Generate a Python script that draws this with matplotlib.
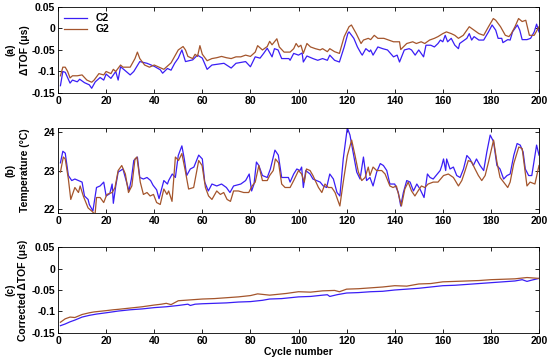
import matplotlib
matplotlib.use("Agg")
import matplotlib.pyplot as plt

# ---- data ----
# (a) delta TOF (us)
a_c2_x = [1, 2, 3, 5, 6, 8, 9, 11, 13, 14, 15.5, 17.5, 19, 20, 22, 24, 25, 26, 27.5, 30,
          31.5, 34, 37, 40, 42.5, 43.5, 45.5, 47, 48.5, 50, 51.5, 53, 56, 58, 60, 62, 64, 69,
          72, 74, 78, 80, 82, 84, 85.5, 87, 89, 90, 91.5, 93, 96, 96.5, 98, 100, 101.5, 102,
          103.5, 106, 108, 110, 112, 113, 115, 117, 119, 120.5, 121, 123, 124.5, 126, 126.5,
          128, 129.5, 130, 131, 133, 135, 137, 139.5, 141, 142, 144, 146, 147, 148.5, 150,
          152, 153, 155, 156.5, 158, 159, 160, 161, 162, 163.5, 165, 166.5, 167, 170, 171,
          172, 173, 175, 177, 179, 180.5, 182, 183, 184.5, 185, 187, 188, 189, 191, 192, 193,
          195, 196.5, 198, 199, 200]
a_c2_y = [-0.133, -0.100, -0.102, -0.127, -0.120, -0.124, -0.118, -0.126, -0.131, -0.139,
          -0.124, -0.114, -0.120, -0.106, -0.116, -0.100, -0.120, -0.089, -0.096, -0.108,
          -0.100, -0.077, -0.081, -0.088, -0.096, -0.104, -0.093, -0.097, -0.081, -0.069,
          -0.050, -0.077, -0.073, -0.062, -0.069, -0.095, -0.085, -0.081, -0.092, -0.081,
          -0.077, -0.089, -0.066, -0.069, -0.058, -0.046, -0.066, -0.047, -0.050, -0.070,
          -0.070, -0.074, -0.058, -0.062, -0.057, -0.078, -0.064, -0.070, -0.074, -0.070,
          -0.074, -0.062, -0.074, -0.078, -0.043, -0.012, -0.008, -0.023, -0.043, -0.058,
          -0.062, -0.047, -0.054, -0.050, -0.062, -0.043, -0.047, -0.050, -0.066, -0.062,
          -0.078, -0.050, -0.047, -0.050, -0.062, -0.050, -0.066, -0.039, -0.039, -0.043,
          -0.035, -0.027, -0.031, -0.016, -0.031, -0.023, -0.039, -0.047, -0.035, -0.023,
          -0.012, -0.027, -0.019, -0.027, -0.027, -0.008, 0.008, -0.004, -0.023, -0.023,
          -0.033, -0.026, -0.027, -0.008, 0.008, -0.004, -0.026, -0.026, -0.023, -0.008,
          0.010, -0.008]
a_g2_x = [1, 2, 3, 4, 5, 6, 8, 10, 12, 14, 15, 17, 19, 20, 22, 23, 24, 26, 27, 28, 30, 32,
          33, 34, 36, 38, 40, 42, 44, 45, 47, 48, 50, 52, 53, 54, 56, 57, 58, 59, 60, 62, 64,
          66, 68, 70, 72, 74, 76, 78, 80, 82, 83, 85, 87, 88, 89, 91, 92, 94, 96.5, 98, 99,
          100, 101, 102, 103.5, 105, 107, 109, 110, 112, 113, 115, 117, 119, 121, 122, 124,
          126, 127, 129, 130, 131.5, 133, 135.5, 137.5, 139.5, 142, 142.5, 145, 147.5, 149,
          151, 152.5, 154.5, 156.5, 158, 160, 161.5, 163.5, 165, 166.5, 168.5, 170, 171, 173,
          175, 177, 179, 181, 182, 184, 186, 187.5, 188.5, 190, 191.5, 193, 194.5, 196, 198,
          200]
a_g2_y = [-0.110, -0.090, -0.090, -0.100, -0.115, -0.110, -0.110, -0.108, -0.120, -0.125,
          -0.120, -0.105, -0.108, -0.100, -0.105, -0.095, -0.100, -0.085, -0.090, -0.090,
          -0.090, -0.070, -0.055, -0.070, -0.085, -0.090, -0.085, -0.090, -0.095, -0.090,
          -0.080, -0.070, -0.050, -0.042, -0.050, -0.065, -0.070, -0.060, -0.065, -0.040,
          -0.060, -0.075, -0.070, -0.068, -0.065, -0.068, -0.070, -0.066, -0.066, -0.062,
          -0.065, -0.055, -0.040, -0.050, -0.042, -0.030, -0.038, -0.024, -0.043, -0.055,
          -0.055, -0.047, -0.035, -0.043, -0.039, -0.058, -0.035, -0.043, -0.047, -0.050,
          -0.047, -0.054, -0.047, -0.054, -0.058, -0.019, 0.004, 0.008, -0.012, -0.035,
          -0.027, -0.023, -0.026, -0.016, -0.023, -0.023, -0.027, -0.031, -0.031, -0.049,
          -0.035, -0.031, -0.035, -0.031, -0.035, -0.027, -0.023, -0.019, -0.012, -0.008,
          -0.012, -0.016, -0.023, -0.016, -0.004, 0.004, -0.004, -0.012, -0.016, 0.004,
          0.023, 0.019, 0.004, -0.016, -0.019, -0.012, 0.004, 0.023, 0.016, 0.019, -0.016,
          -0.016, 0.004]

# (b) temperature (degC)
b_c2_x = [1, 2, 3, 4.3, 5.7, 7, 8.5, 10, 11, 12.5, 13, 14.5, 15.5, 16, 17.5, 19, 20, 21.5,
          22.5, 23, 24, 25, 27, 28.5, 29.5, 30.5, 31.5, 33, 34, 35.5, 37, 38.5, 39.5, 41, 42,
          44, 45.5, 46, 47.5, 48.8, 50, 51.5, 52.5, 53.5, 55, 56.5, 58.5, 60, 61, 62.5, 64,
          66, 68, 70, 71.5, 73, 76, 78, 79.5, 80.5, 81.5, 82.5, 83.5, 85, 87, 88.3, 90.2,
          91.6, 93, 95.8, 96.5, 98, 99.3, 100.6, 101.3, 102, 103, 104.8, 106, 109, 110.3,
          111.7, 113, 114.5, 116, 117.2, 118.6, 120.3, 121.4, 122.8, 124.2, 125.6, 127, 128.3,
          129.7, 131, 132.5, 134, 135.3, 136.7, 138, 140, 141.5, 142.5, 143.6, 145, 146.4,
          147.8, 149.2, 150.5, 152.2, 153.6, 154.7, 156, 158.9, 159.6, 160.3, 161.2, 161.6,
          163, 164.4, 165.8, 167.2, 168.6, 170, 171.3, 172.7, 174, 175.5, 177, 178.3, 179.7,
          181.1, 182.5, 183.8, 185.3, 186.7, 188, 189.5, 190.9, 192.2, 193.4, 194.3, 195.7,
          197, 199, 200]
b_c2_y = [23.20, 23.50, 23.45, 22.87, 22.74, 22.78, 22.74, 22.70, 22.34, 22.25, 22.12,
          21.95, 22.35, 22.56, 22.60, 22.70, 22.34, 22.40, 22.65, 22.15, 22.60, 22.96, 23.04,
          22.70, 22.47, 22.78, 23.26, 23.35, 22.82, 22.78, 22.82, 22.74, 22.62, 22.50, 22.27,
          22.74, 22.65, 22.74, 22.91, 22.82, 23.39, 23.64, 23.30, 22.87, 23.04, 23.09, 23.40,
          23.30, 22.70, 22.47, 22.65, 22.60, 22.65, 22.56, 22.43, 22.60, 22.65, 22.74, 22.91,
          22.47, 22.65, 23.22, 23.13, 22.87, 22.82, 23.04, 23.53, 23.40, 22.82, 22.82, 22.70,
          22.91, 23.04, 23.00, 23.09, 22.56, 23.00, 22.91, 22.78, 22.70, 22.60, 22.56, 22.91,
          22.78, 22.43, 22.34, 23.30, 24.11, 23.92, 23.44, 22.96, 22.78, 23.35, 22.74, 22.82,
          22.60, 22.96, 23.18, 23.13, 23.00, 22.65, 22.65, 22.43, 22.08, 22.43, 22.74, 22.70,
          22.47, 22.65, 22.52, 22.30, 22.91, 22.82, 22.78, 23.00, 23.13, 23.30, 23.00, 23.30,
          23.04, 23.09, 22.87, 22.82, 23.04, 23.39, 23.30, 23.13, 23.30, 23.13, 23.00, 23.48,
          23.92, 23.75, 23.13, 23.04, 22.78, 22.87, 22.91, 23.39, 23.70, 23.66, 23.48, 23.04,
          22.87, 22.87, 23.66, 23.40]
b_g2_x = [1, 2.2, 3, 4.3, 5.3, 7, 8.5, 9.2, 10.5, 12.5, 14, 15.4, 16, 17.5, 19, 20.3, 22.5,
          23.7, 25, 26.5, 28, 29.3, 30.7, 32, 32.8, 34.2, 35.5, 37, 38.3, 39.7, 41, 42.5, 44,
          45.3, 46, 47.4, 48.8, 50.1, 51.5, 52.9, 54.3, 56.4, 58.5, 59.9, 61.3, 62.6, 64, 66,
          67.5, 68.9, 70.3, 71.7, 73, 75, 77.2, 79.3, 80.7, 82, 83.5, 85, 87, 88, 89.5, 90.4,
          91.7, 93, 94.4, 96.5, 98, 100, 101.3, 102.4, 103.3, 104.8, 106, 108.3, 109.7, 111,
          112.4, 113.8, 115.2, 117.2, 118.6, 120.3, 122.1, 123.5, 124.9, 126.3, 127.7, 129,
          129.7, 131, 132.5, 134.6, 136, 138, 139.3, 140.7, 142.1, 142.8, 144.2, 145.6, 147,
          148.4, 149.7, 151.1, 152.5, 153.9, 156, 158, 160.3, 162.3, 164.4, 166.5, 167.9,
          169.3, 170.6, 172, 173.4, 174.8, 176.2, 177.6, 179, 181.1, 182.5, 183.8, 185.3,
          187, 188, 189.5, 191.6, 193, 193.9, 195, 196.3, 198.3, 200]
b_g2_y = [22.96, 23.35, 23.30, 22.78, 22.25, 22.56, 22.43, 22.60, 22.34, 22.03, 21.95,
          21.86, 22.30, 22.30, 22.17, 22.38, 22.43, 22.56, 23.00, 23.13, 22.91, 22.43, 22.60,
          23.30, 23.35, 22.70, 22.38, 22.43, 22.34, 22.38, 22.17, 22.12, 22.52, 22.38, 22.47,
          22.20, 23.35, 23.26, 23.44, 23.00, 22.52, 22.56, 23.26, 23.13, 22.56, 22.34, 22.25,
          22.47, 22.38, 22.43, 22.25, 22.20, 22.47, 22.47, 22.43, 22.43, 22.60, 22.70, 23.13,
          22.74, 22.74, 22.87, 23.00, 23.30, 23.20, 22.65, 22.56, 22.56, 22.74, 23.00, 22.91,
          22.70, 23.04, 23.00, 22.87, 22.56, 22.43, 22.65, 22.56, 22.56, 22.43, 22.08, 22.70,
          23.39, 23.79, 23.39, 22.96, 22.74, 22.82, 23.09, 22.87, 23.09, 23.00, 23.00, 22.91,
          22.60, 22.56, 22.60, 22.25, 22.08, 22.52, 22.70, 22.47, 22.34, 22.47, 22.60, 22.56,
          22.65, 22.70, 22.70, 22.87, 22.91, 22.82, 22.60, 22.74, 23.00, 23.26, 23.22, 23.04,
          22.87, 22.74, 22.87, 23.22, 23.79, 23.22, 22.82, 22.70, 22.56, 22.70, 23.18, 23.61,
          23.57, 23.13, 22.60, 22.70, 22.65, 23.13]

# (c) corrected delta TOF (us)
c_c2_x = [1, 3, 5, 7, 10, 13, 16, 20, 25, 30, 35, 40, 45, 50, 54, 55, 57, 60, 65, 70, 75,
          80, 85, 88, 93, 100, 105, 110, 112, 113, 116, 120, 125, 130, 135, 140, 145, 150, 155,
          160, 165, 170, 175, 180, 185, 190, 193, 195, 197, 200]
c_c2_y = [-0.133, -0.129, -0.124, -0.120, -0.113, -0.109, -0.106, -0.103, -0.099, -0.096,
          -0.094, -0.091, -0.089, -0.086, -0.083, -0.086, -0.083, -0.082, -0.081, -0.080,
          -0.078, -0.077, -0.074, -0.071, -0.070, -0.066, -0.065, -0.062, -0.061, -0.065,
          -0.061, -0.057, -0.056, -0.054, -0.053, -0.050, -0.048, -0.046, -0.043, -0.040,
          -0.039, -0.037, -0.035, -0.033, -0.031, -0.029, -0.026, -0.030, -0.027, -0.023]
c_g2_x = [1, 3, 5, 7, 10, 13, 15, 20, 23, 25, 30, 35, 40, 43, 45, 47, 50, 55, 60, 65, 70,
          75, 80, 83, 88, 95, 100, 105, 110, 115, 117, 120, 125, 130, 135, 140, 145, 150,
          155, 160, 165, 170, 175, 180, 185, 190, 195, 200]
c_g2_y = [-0.125, -0.117, -0.113, -0.114, -0.107, -0.103, -0.101, -0.098, -0.096, -0.095,
          -0.092, -0.089, -0.085, -0.083, -0.081, -0.084, -0.075, -0.073, -0.071, -0.070,
          -0.068, -0.066, -0.063, -0.059, -0.062, -0.058, -0.054, -0.055, -0.052, -0.051,
          -0.054, -0.048, -0.047, -0.045, -0.043, -0.040, -0.041, -0.036, -0.035, -0.031,
          -0.030, -0.029, -0.028, -0.026, -0.025, -0.024, -0.021, -0.023]

x_ticks = list(range(0, 201, 20))
tof_ticks = [0.05, 0, -0.05, -0.1, -0.15]
tof_labels = ["0.05", "0", "-0.05", "-0.1", "-0.15"]
temp_ticks = [22, 23, 24]

# ---- style ----
plt.rcParams["font.family"] = ["Liberation Sans", "DejaVu Sans"]
plt.rcParams["font.weight"] = "bold"
plt.rcParams["axes.unicode_minus"] = False

blue = "#3a1ef5"
brown = "#a4552c"

W, H = 550, 364
fig = plt.figure(figsize=(5.5, 3.64), dpi=100)
left, width = 0.1055, 0.8745
ax_a = fig.add_axes([left, 0.7445, width, 0.2365])
ax_b = fig.add_axes([left, 0.415, width, 0.233])
ax_c = fig.add_axes([left, 0.0852, width, 0.2362])

ax_a.plot(a_c2_x, a_c2_y, color=blue, lw=0.9, label="C2")
ax_a.plot(a_g2_x, a_g2_y, color=brown, lw=0.9, label="G2")
ax_b.plot(b_c2_x, b_c2_y, color=blue, lw=0.9)
ax_b.plot(b_g2_x, b_g2_y, color=brown, lw=0.9)
ax_c.plot(c_c2_x, c_c2_y, color=blue, lw=0.9)
ax_c.plot(c_g2_x, c_g2_y, color=brown, lw=0.9)

for ax in (ax_a, ax_b, ax_c):
    ax.set_xlim(0, 200)
    ax.set_xticks(x_ticks)
    ax.tick_params(direction="in", top=True, right=True, length=3, width=0.6,
                   labelsize=7.5, pad=2)
    for lbl in ax.get_xticklabels() + ax.get_yticklabels():
        lbl.set_fontweight("bold")
    for s in ax.spines.values():
        s.set_linewidth(0.6)

for ax in (ax_a, ax_c):
    ax.set_ylim(-0.15, 0.05)
    ax.set_yticks(tof_ticks)
    ax.set_yticklabels(tof_labels, fontweight="bold")

ax_b.set_ylim(21.9, 24.1)
ax_b.set_yticks(temp_ticks)
ax_b.set_yticklabels([str(t) for t in temp_ticks], fontweight="bold")

# panel letters and y labels as two separate rotated texts
panels = [(ax_a, "(a)", "\u0394TOF (\u03bcs)", 25),
          (ax_b, "(b)", "Temperature (\u00b0C)", 25),
          (ax_c, "(c)", "Corrected \u0394TOF (\u03bcs)", 23)]
for ax, letter, label, xpx in panels:
    pos = ax.get_position()
    ymid = (pos.y0 + pos.y1) / 2
    fig.text(10 / W, ymid, letter, rotation=90, ha="center", va="center",
             fontsize=7.5, fontweight="bold")
    fig.text(xpx / W, ymid, label, rotation=90, ha="center", va="center",
             fontsize=7.5, fontweight="bold")

ax_c.set_xlabel("Cycle number", fontsize=7.5, fontweight="bold", labelpad=1)

leg = ax_a.legend(loc="upper left", frameon=False, fontsize=7.5, handlelength=2.2,
                  borderaxespad=0.2, labelspacing=0.1)
for t in leg.get_texts():
    t.set_fontweight("bold")

fig.savefig("out.png", dpi=100)
